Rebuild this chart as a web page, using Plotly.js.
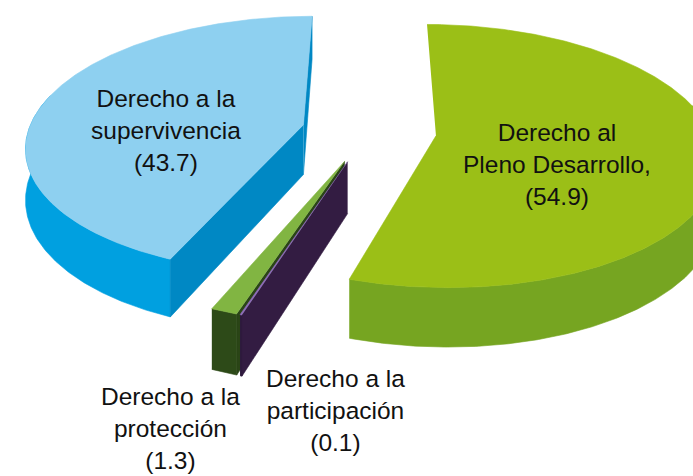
<!DOCTYPE html>
<html><head><meta charset="utf-8">
<script src="https://cdn.plot.ly/plotly-3.0.1.min.js"></script>
<style>html,body{margin:0;padding:0;background:#fff}#chart{width:693px;height:476px}</style>
</head><body><div id="chart"></div>
<script>
// ---- data ----
const categories = ['Derecho al Pleno Desarrollo', 'Derecho a la participación', 'Derecho a la protección', 'Derecho a la supervivencia'];
const values = [54.9, 0.1, 1.3, 43.7];
const labelHeads = [['Derecho al', 'Pleno Desarrollo,'], ['Derecho a la', 'participación'], ['Derecho a la', 'protección'], ['Derecho a la', 'supervivencia']];

// ---- styles ----
const topColors = ['#9BBF17', '#8F6DBA', '#81B542', '#8ED0F0'];
const wallColors = ['#76A521', '#2E1A3E', '#2D4A18', '#00A0E0'];
const radialColors = ['#6A951C', '#331C42', '#2A4516', '#0088C4'];
const labelPos = [[557, 164], [335, 410], [170, 428], [166, 130]];

// ---- 3D projection parameters (layout) ----
const G = {cx: 369, cy: 131, rx: 275, ry: 127, k: 0.153, h: 50, pull: 0.245, viewX: 0.25};
G.viewZ = -1 / G.k;

function proj(X, Z, Y) {
  const p = 1 / (1 + G.k * Z);
  return [G.cx + G.rx * X * p, G.cy + (-G.ry * Z + G.h * Y) * p];
}
const deg = Math.PI / 180;
const total = values.reduce((a, b) => a + b, 0);

const traces = [];
function poly(pts, color) {
  traces.push({
    type: 'scatter', mode: 'lines', fill: 'toself', fillcolor: color,
    line: {color: color, width: 0.6},
    x: pts.map(p => p[0]), y: pts.map(p => p[1]),
    hoverinfo: 'skip', showlegend: false
  });
}

// slices geometry from values (clockwise from 12 o'clock)
let cum = 0;
const slices = values.map((v, i) => {
  const aStart = 90 - cum / total * 360;
  cum += v;
  const aEnd = 90 - cum / total * 360;
  const a1 = aEnd * deg, a2 = aStart * deg, mid = (a1 + a2) / 2;
  return {i, a1, a2, px: G.pull * Math.cos(mid), pz: G.pull * Math.sin(mid)};
});

// draw back to front
const order = slices.slice().sort((a, b) => b.pz - a.pz);
order.forEach(s => {
  const n = Math.max(3, Math.ceil((s.a2 - s.a1) / deg * 2));
  const arc = [];
  for (let j = 0; j <= n; j++) {
    const t = s.a1 + (s.a2 - s.a1) * j / n;
    arc.push([s.px + Math.cos(t), s.pz + Math.sin(t), t]);
  }
  // outer wall: only the front part (back part is hidden under the top)
  let run = [];
  const flush = () => {
    if (run.length > 1) {
      const wall = run.map(q => proj(q[0], q[1], 0)).concat(run.slice().reverse().map(q => proj(q[0], q[1], 1)));
      poly(wall, wallColors[s.i]);
    }
    run = [];
  };
  arc.forEach(q => { if (Math.sin(q[2]) < 0.25) run.push(q); else flush(); });
  flush();
  // radial faces
  [[s.a1, -1], [s.a2, 1]].forEach(([a, sg]) => {
    const na = a + sg * Math.PI / 2;
    const nx = Math.cos(na), nz = Math.sin(na);
    const fx = s.px + 0.5 * Math.cos(a), fz = s.pz + 0.5 * Math.sin(a);
    const dot = nx * (G.viewX - fx) + nz * (G.viewZ - fz);
    if (dot > 0) {
      const rX = s.px + Math.cos(a), rZ = s.pz + Math.sin(a);
      poly([proj(s.px, s.pz, 0), proj(rX, rZ, 0), proj(rX, rZ, 1), proj(s.px, s.pz, 1)], radialColors[s.i]);
    }
  });
  // top
  const top = [proj(s.px, s.pz, 0)].concat(arc.map(q => proj(q[0], q[1], 0)));
  poly(top, topColors[s.i]);
});

const annotations = categories.map((c, i) => ({
  x: labelPos[i][0], y: labelPos[i][1], xref: 'x', yref: 'y',
  text: labelHeads[i].join('<br>') + '<br>(' + values[i] + ')',
  showarrow: false, xanchor: 'center', yanchor: 'middle', align: 'center',
  font: {family: 'Liberation Sans, Arial, sans-serif', size: 24.5, color: '#111111'}
}));

Plotly.newPlot('chart', traces, {
  width: 693, height: 476,
  margin: {l: 0, r: 0, t: 0, b: 0},
  paper_bgcolor: '#ffffff', plot_bgcolor: '#ffffff',
  xaxis: {range: [0, 693], visible: false, fixedrange: true},
  yaxis: {range: [476, 0], visible: false, fixedrange: true},
  showlegend: false, hovermode: false,
  annotations: annotations
}, {displayModeBar: false, staticPlot: true});
</script>
</body></html>
